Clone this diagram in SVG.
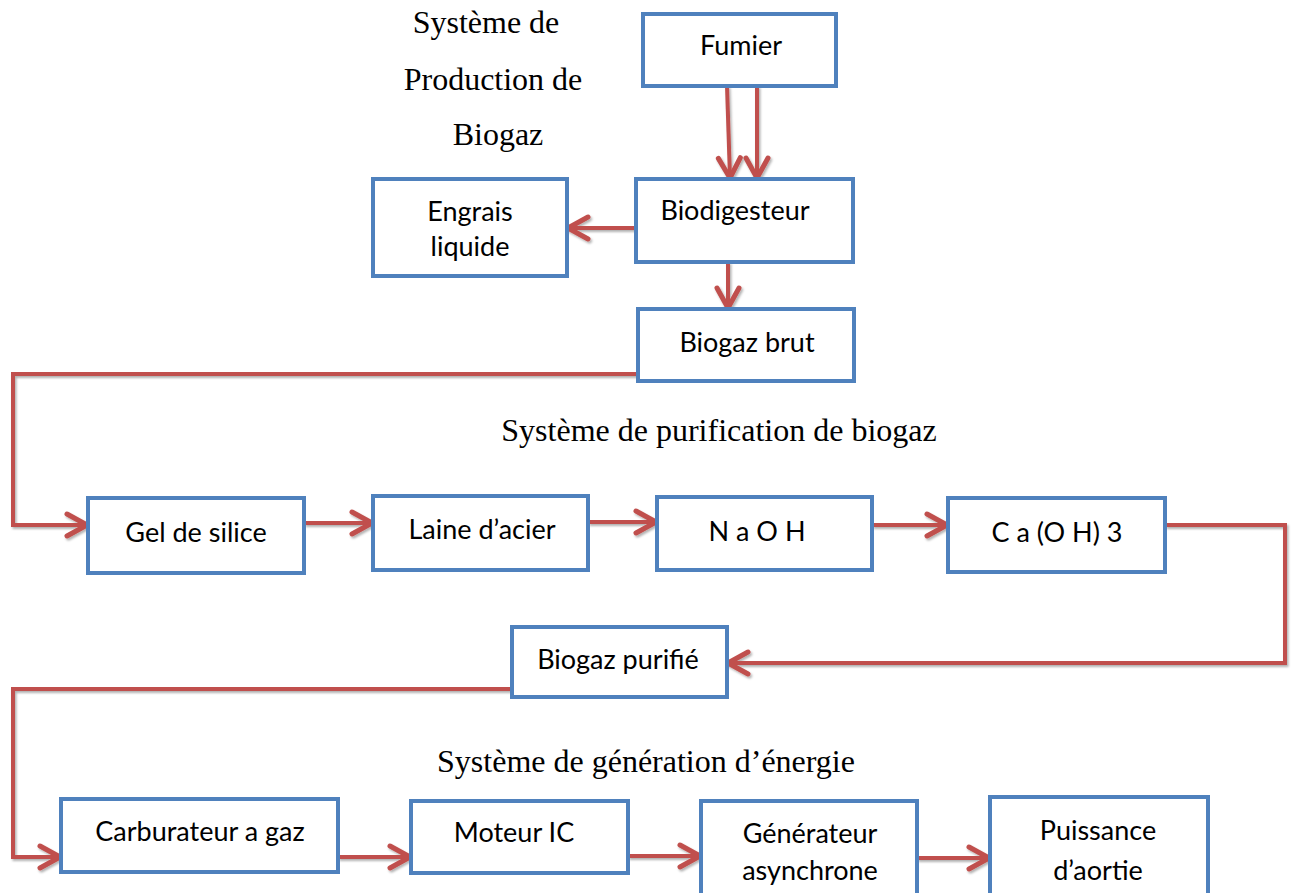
<svg xmlns="http://www.w3.org/2000/svg" width="1294" height="893" viewBox="0 0 1294 893">
  <defs>
    <marker id="arrow" viewBox="0 0 30 30" refX="25" refY="15" markerWidth="30" markerHeight="30" markerUnits="userSpaceOnUse" orient="auto">
      <path d="M5,4 L25,15 L5,26" fill="none" stroke="#C0504D" stroke-width="5" stroke-linecap="round" stroke-linejoin="round"/>
    </marker>
    <filter id="shadow" filterUnits="userSpaceOnUse" x="0" y="0" width="1294" height="893">
      <feDropShadow dx="1.5" dy="2" stdDeviation="1.2" flood-color="#000" flood-opacity="0.3"/>
    </filter>
  </defs>
  <style>
    .box { fill: #FFFFFF; stroke: #4F81BD; stroke-width: 4; }
    .lbl { font-family: Lato, "Open Sans", sans-serif; font-size: 27px; fill: #000; text-anchor: middle; }
    .title { font-family: "Liberation Serif", serif; font-size: 32px; fill: #000; text-anchor: middle; }
    .link { fill: none; stroke: #C0504D; stroke-width: 4; stroke-linejoin: miter; marker-end: url(#arrow); filter: url(#shadow); }
  </style>
  <rect width="1294" height="893" fill="#FFFFFF"/>

  <!-- section titles -->
  <g id="titles">
    <text class="title" x="486" y="33">Système de</text>
    <text class="title" x="493" y="90">Production de</text>
    <text class="title" x="498" y="145">Biogaz</text>
    <text class="title" x="719" y="441">Système de purification de biogaz</text>
    <text class="title" x="646" y="772">Système de génération d’énergie</text>
  </g>

  <!-- connectors -->
  <g id="connectors">
    <path class="link" d="M727,86 L730,178"/>
    <path class="link" d="M757,86 L757,178"/>
    <path class="link" d="M636,228 L568,228"/>
    <path class="link" d="M728,262 L728,308"/>
    <path class="link" d="M638,374 L13,374 L13,525 L87,525"/>
    <path class="link" d="M304,523 L372,523"/>
    <path class="link" d="M588,522 L656,522"/>
    <path class="link" d="M872,525 L947,525"/>
    <path class="link" d="M1165,525 L1285,525 L1285,663 L728,663"/>
    <path class="link" d="M512,689 L13,689 L13,857 L60,857"/>
    <path class="link" d="M338,857 L410,857"/>
    <path class="link" d="M628,856 L700,856"/>
    <path class="link" d="M917,858 L989,858"/>
  </g>

  <!-- nodes -->
  <g id="fumier">
    <rect class="box" x="643" y="14" width="193" height="72"/>
    <text class="lbl" x="741" y="55">Fumier</text>
  </g>
  <g id="biodigesteur">
    <rect class="box" x="636" y="179" width="217" height="83"/>
    <text class="lbl" x="735" y="220">Biodigesteur</text>
  </g>
  <g id="engrais">
    <rect class="box" x="373" y="179" width="194" height="97"/>
    <text class="lbl" x="470" y="221">Engrais</text>
    <text class="lbl" x="470" y="256">liquide</text>
  </g>
  <g id="biogaz-brut">
    <rect class="box" x="638" y="309" width="216" height="72"/>
    <text class="lbl" x="747" y="352">Biogaz brut</text>
  </g>
  <g id="gel-silice">
    <rect class="box" x="88" y="498" width="216" height="75"/>
    <text class="lbl" x="196" y="542">Gel de silice</text>
  </g>
  <g id="laine-acier">
    <rect class="box" x="373" y="496" width="215" height="74"/>
    <text class="lbl" x="482" y="539">Laine d’acier</text>
  </g>
  <g id="naoh">
    <rect class="box" x="657" y="497" width="215" height="73"/>
    <text class="lbl" x="757" y="541">N a O H</text>
  </g>
  <g id="caoh">
    <rect class="box" x="948" y="498" width="217" height="74"/>
    <text class="lbl" x="1057" y="542">C a (O H) 3</text>
  </g>
  <g id="biogaz-purifie">
    <rect class="box" x="512" y="627" width="215" height="70"/>
    <text class="lbl" x="618" y="669">Biogaz purifié</text>
  </g>
  <g id="carburateur">
    <rect class="box" x="61" y="799" width="277" height="73"/>
    <text class="lbl" x="200" y="841">Carburateur a gaz</text>
  </g>
  <g id="moteur">
    <rect class="box" x="411" y="801" width="217" height="72"/>
    <text class="lbl" x="514" y="842">Moteur IC</text>
  </g>
  <g id="generateur">
    <rect class="box" x="701" y="801" width="216" height="96"/>
    <text class="lbl" x="810" y="843">Générateur</text>
    <text class="lbl" x="810" y="880">asynchrone</text>
  </g>
  <g id="puissance">
    <rect class="box" x="990" y="797" width="218" height="100"/>
    <text class="lbl" x="1098" y="840">Puissance</text>
    <text class="lbl" x="1098" y="880">d’aortie</text>
  </g>
</svg>
